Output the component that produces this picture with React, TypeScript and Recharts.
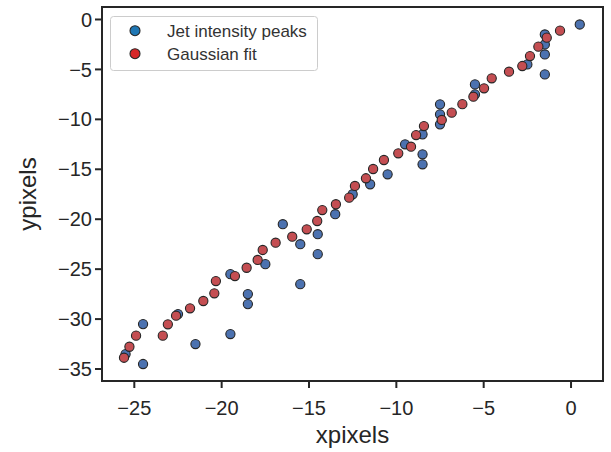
import { Legend, ReferenceArea, Scatter, ScatterChart, XAxis, YAxis } from "recharts";

// jet intensity peaks (pixel centres)
const jetX = [
  0.5, -1.5, -1.5, -1.5, -1.5, -2.5, -5.5, -5.5, -7.5, -7.5, -7.5, -8.5, -9.5, -8.5, -8.5, -10.5, -11.5,
  -12.5, -13.5, -14.5, -16.5, -15.5, -14.5, -17.5, -15.5, -19.5, -18.5, -18.5, -22.5, -19.5, -21.5, -24.5,
  -24.5, -25.5,
];
const jetY = [
  -0.5, -1.5, -2.5, -3.5, -5.5, -4.5, -6.5, -7.5, -8.5, -9.5, -10.5, -11.5, -12.5, -13.5, -14.5, -15.5,
  -16.5, -17.5, -19.5, -21.5, -20.5, -22.5, -23.5, -24.5, -26.5, -25.5, -27.5, -28.5, -29.5, -31.5, -32.5,
  -30.5, -34.5, -33.5,
];

// gaussian fit centres
const fitX = [
  -0.63, -1.39, -1.87, -2.35, -2.79, -3.55, -4.54, -4.98, -5.59, -6.22, -6.83, -7.4, -8.42, -8.87, -9.16,
  -9.89, -10.71, -11.33, -11.74, -12.37, -12.7, -13.46, -14.24, -14.53, -15.13, -15.96, -16.91, -17.65,
  -17.94, -18.57, -19.24, -20.33, -20.42, -21.05, -21.81, -22.61, -23.08, -23.37, -24.9, -25.28, -25.59,
];
const fitY = [
  -1.12, -1.82, -2.72, -3.66, -4.66, -5.23, -5.89, -6.89, -7.73, -8.48, -9.33, -10.06, -10.67, -11.57,
  -12.74, -13.4, -14.07, -14.97, -15.9, -16.67, -17.84, -18.5, -19.08, -20.18, -21.01, -21.75, -22.35,
  -23.08, -24.08, -24.86, -25.69, -26.19, -27.42, -28.19, -28.92, -29.66, -30.52, -31.66, -31.66, -32.77,
  -33.87,
];

const seriesNames = ["Jet intensity peaks", "Gaussian fit"];
const xTicks = [-25, -20, -15, -10, -5, 0];
const yTicks = [0, -5, -10, -15, -20, -25, -30, -35];
const X_DOMAIN: [number, number] = [-26.85, 1.83];
const Y_DOMAIN: [number, number] = [-36.2, 1.25];

const INK = "#262626";
const FONT = "'Liberation Sans', Arial, sans-serif";

const jetData = jetX.map((x, i) => ({ x, y: jetY[i] }));
const fitData = fitX.map((x, i) => ({ x, y: fitY[i] }));

const legendColors: Record<string, string> = {
  "Jet intensity peaks": "#1f77b4",
  "Gaussian fit": "#d62728",
};

const fmt = (v: number) => (v < 0 ? `\u2212${Math.abs(v)}` : `${v}`);

const dot = (fill: string) => (props: any) =>
  <circle cx={props.cx} cy={props.cy} r={4.6} fill={fill} stroke={INK} strokeWidth={1.1} />;

const XTitle = ({ viewBox }: any) => (
  <text
    x={viewBox.x + viewBox.width / 2}
    y={viewBox.y + viewBox.height - 9}
    textAnchor="middle"
    fontSize={24}
    fill={INK}
    fontFamily={FONT}
  >
    xpixels
  </text>
);

const YTitle = ({ viewBox }: any) => {
  const x = viewBox.x + 36;
  const y = viewBox.y + viewBox.height / 2;
  return (
    <text x={x} y={y} transform={`rotate(-90, ${x}, ${y})`} textAnchor="middle" fontSize={24} fill={INK} fontFamily={FONT}>
      ypixels
    </text>
  );
};

const LegendBox = ({ payload }: any) => {
  const items = [...(payload || [])].sort(
    (a: any, b: any) => seriesNames.indexOf(a.value) - seriesNames.indexOf(b.value),
  );
  return (
    <svg width={209} height={56} style={{ display: "block" }}>
      <rect x={0.5} y={0.5} width={207} height={54} rx={3} fill="#fff" fillOpacity={0.8} stroke="#cccccc" />
      {items.map((entry: any, i: number) => (
        <g key={entry.value}>
          <circle cx={25} cy={14.7 + i * 23} r={5} fill={legendColors[entry.value] ?? entry.color} stroke={INK} strokeWidth={1.1} />
          <text x={57} y={20.7 + i * 23.3} fontSize={17} fill="#333" fontFamily={FONT}>
            {entry.value}
          </text>
        </g>
      ))}
    </svg>
  );
};

export default function App() {
  return (
    <div style={{ position: "absolute", left: 0, top: 0, background: "#fff" }}>
      <ScatterChart width={611} height={452} margin={{ top: 7, right: 8, left: 0, bottom: 0 }} style={{ fontFamily: FONT }}>
        <XAxis
          type="number"
          dataKey="x"
          domain={X_DOMAIN}
          allowDataOverflow
          ticks={xTicks}
          tickFormatter={fmt}
          height={71}
          axisLine={false}
          tickSize={7}
          tickMargin={13}
          tickLine={{ stroke: INK, strokeWidth: 2 }}
          tick={{ fill: INK, fontSize: 20 }}
          label={<XTitle />}
        />
        <YAxis
          type="number"
          dataKey="y"
          domain={Y_DOMAIN}
          allowDataOverflow
          ticks={yTicks}
          tickFormatter={fmt}
          width={102}
          axisLine={false}
          tickSize={7}
          tickMargin={3}
          tickLine={{ stroke: INK, strokeWidth: 2 }}
          tick={{ fill: INK, fontSize: 20 }}
          label={<YTitle />}
        />
        <ReferenceArea
          x1={X_DOMAIN[0]}
          x2={X_DOMAIN[1]}
          y1={Y_DOMAIN[0]}
          y2={Y_DOMAIN[1]}
          fill="none"
          stroke={INK}
          strokeWidth={2}
          ifOverflow="visible"
        />
        <Legend
          layout="vertical"
          align="center"
          verticalAlign="middle"
          wrapperStyle={{ left: 110, top: 16, width: 209, height: 56 }}
          content={<LegendBox />}
        />
        <Scatter name={seriesNames[0]} data={jetData} fill="#4c72b0" shape={dot("#4c72b0")} isAnimationActive={false} />
        <Scatter name={seriesNames[1]} data={fitData} fill="#c44e52" shape={dot("#c44e52")} isAnimationActive={false} />
      </ScatterChart>
    </div>
  );
}
